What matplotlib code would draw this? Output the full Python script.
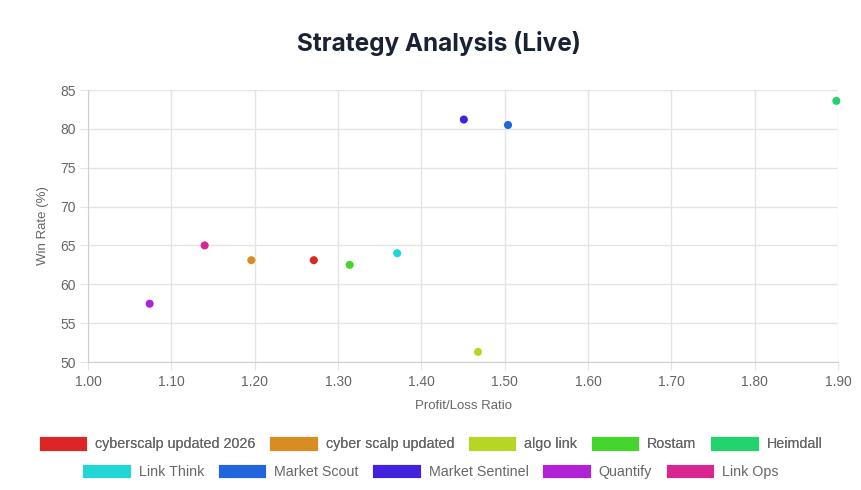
import matplotlib.pyplot as plt
from matplotlib.patches import Patch

plt.rcParams['font.family'] = ['Liberation Sans', 'DejaVu Sans']

# data
names = ["cyberscalp updated 2026", "cyber scalp updated", "algo link", "Rostam", "Heimdall",
         "Link Think", "Market Scout", "Market Sentinel", "Quantify", "Link Ops"]
pl_ratio = [1.271, 1.196, 1.468, 1.314, 1.898, 1.371, 1.504, 1.451, 1.074, 1.140]
win_rate = [63.1, 63.1, 51.3, 62.5, 83.6, 64.0, 80.5, 81.2, 57.5, 65.0]
colors = ["#dc2626", "#d98c22", "#b5d624", "#44d62c", "#22d46e",
          "#22d6d6", "#2266dd", "#4422dd", "#b122d6", "#d92690"]

fig = plt.figure(figsize=(8.61, 4.9), dpi=100)
ax = fig.add_axes([0.1022, 0.2612, 0.8711, 0.5551])

for n, x, y, c in zip(names, pl_ratio, win_rate, colors):
    ax.scatter(x, y, s=34, color=c, edgecolors="none", zorder=3, clip_on=False)

ax.set_xlim(1.0, 1.9)
ax.set_ylim(50, 85)
ax.set_xticks([1.0 + i * 0.1 for i in range(10)])
ax.set_xticklabels([f"{1.0 + i * 0.1:.2f}" for i in range(10)])
ax.set_yticks(range(50, 86, 5))

grid_c = "#e4e4e4"
ax.grid(True, color=grid_c, linewidth=1)
for s in ax.spines.values():
    s.set_visible(False)
ax.spines["left"].set_visible(True)
ax.spines["bottom"].set_visible(True)
ax.spines["left"].set_color("#d0d0d0")
ax.spines["bottom"].set_color("#d0d0d0")
ax.tick_params(length=6, color=grid_c, labelcolor="#666666", labelsize=10, pad=3)

ax.set_xlabel("Profit/Loss Ratio", color="#666666", fontsize=9.5, labelpad=8)
ax.set_ylabel("Win Rate (%)", color="#666666", fontsize=9.5, labelpad=8)

fig.text(0.51, 0.912, "Strategy Analysis (Live)", ha="center", va="center",
         fontsize=17.5, fontweight="bold", color="#1a2233", family=["Inter", "DejaVu Sans"])

handles = [Patch(facecolor=c, edgecolor="#ffffff", linewidth=0.6) for c in colors]
kw = dict(loc="center", ncol=5, frameon=False, fontsize=10.3, handlelength=3.4,
          handleheight=1.2, handletextpad=0.55, columnspacing=0.95, labelcolor="#666666")
leg1 = fig.legend(handles[:5], names[:5], bbox_to_anchor=(0.5, 0.095), **kw)
fig.add_artist(leg1)
fig.legend(handles[5:], names[5:], bbox_to_anchor=(0.5, 0.038), **kw)

plt.savefig("out.png", dpi=100)
plt.close()
